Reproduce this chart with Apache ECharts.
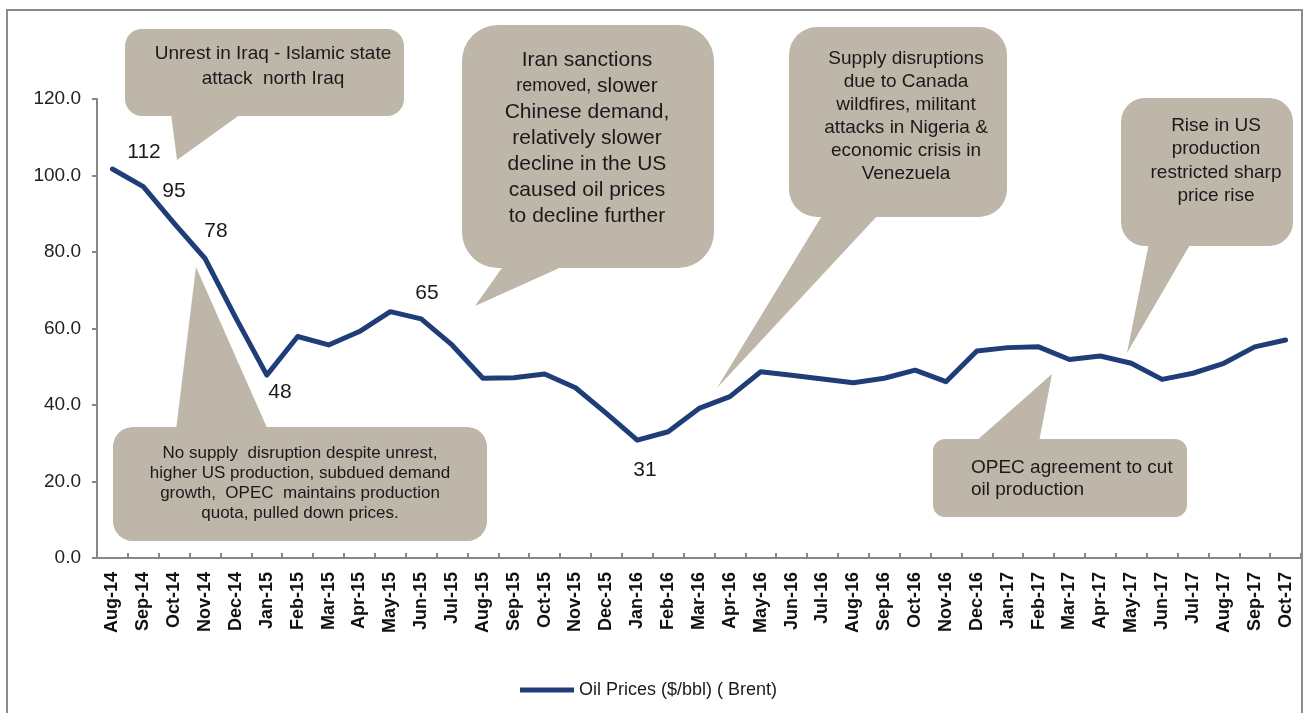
<!DOCTYPE html>
<html>
<head>
<meta charset="utf-8">
<title>Oil Prices (Brent)</title>
<script src="https://cdn.jsdelivr.net/npm/echarts@6/dist/echarts.min.js"></script>
<style>
  html, body { margin: 0; padding: 0; background: #fff; }
  #chart { width: 1304px; height: 713px; }
</style>
</head>
<body>
<div id="chart"></div>
<script>
// monthly Brent prices, $/bbl
const months = [
  'Aug-14', 'Sep-14', 'Oct-14', 'Nov-14', 'Dec-14',
  'Jan-15', 'Feb-15', 'Mar-15', 'Apr-15', 'May-15', 'Jun-15', 'Jul-15', 'Aug-15', 'Sep-15', 'Oct-15', 'Nov-15', 'Dec-15',
  'Jan-16', 'Feb-16', 'Mar-16', 'Apr-16', 'May-16', 'Jun-16', 'Jul-16', 'Aug-16', 'Sep-16', 'Oct-16', 'Nov-16', 'Dec-16',
  'Jan-17', 'Feb-17', 'Mar-17', 'Apr-17', 'May-17', 'Jun-17', 'Jul-17', 'Aug-17', 'Sep-17', 'Oct-17'
]
const brent = [
  101.7, 97.1, 87.5, 78.3, 62.7,
  47.8, 57.9, 55.7, 59.2, 64.4, 62.5, 55.7, 47.0, 47.1, 48.1, 44.5, 37.8,
  30.8, 33.0, 39.1, 42.2, 48.7, 47.8, 46.8, 45.8, 47.0, 49.1, 46.1, 54.1,
  55.0, 55.2, 51.9, 52.8, 50.9, 46.7, 48.3, 50.9, 55.2, 57.0
]
const seriesName = 'Oil Prices ($/bbl) ( Brent)'
const yMin = 0
const yMax = 120
const yStep = 20

// free-standing price notes written on the chart
const priceNotes = ['112', '95', '78', '48', '65', '31']

const FONT = "'Liberation Sans', Arial, sans-serif"
const BUBBLE = '#bdb6a9'
const INK = '#1a1a1a'

// speech bubble = rounded box + tail triangle + text
function bubble(box, tail, text) {
  return {
    type: 'group',
    children: [
      { type: 'polygon', shape: { points: tail }, style: { fill: BUBBLE } },
      { type: 'rect', shape: { x: box[0], y: box[1], width: box[2], height: box[3], r: box[4] }, style: { fill: BUBBLE } },
      { type: 'text', x: text.x, y: text.y, style: Object.assign({
          fill: INK, fontFamily: FONT, align: 'center', verticalAlign: 'middle'
        }, text.style) }
    ]
  }
}

const notePos = [[144, 152], [174, 191], [216, 231], [280, 392], [427, 293], [645, 470]]

const graphics = [
  // outer frame
  { type: 'rect', shape: { x: 7, y: 10, width: 1295, height: 720 }, style: { fill: 'none', stroke: '#8c8c8c', lineWidth: 2 }, z: 1 },
  bubble([125, 29, 279, 87, 17], [[171, 114], [241, 114], [177, 160]], {
    x: 273, y: 66,
    style: { text: 'Unrest in Iraq - Islamic state\nattack  north Iraq', fontSize: 19, lineHeight: 25 }
  }),
  bubble([462, 25, 252, 243, 36], [[504, 265], [566, 265], [475, 306]], {
    x: 587, y: 138,
    style: {
      text: '{b|Iran sanctions}\n{s|removed,}{b| slower}\n{b|Chinese demand,}\n{b|relatively slower}\n{b|decline in the US}\n{b|caused oil prices}\n{b|to decline further}',
      rich: {
        b: { fontSize: 21, lineHeight: 26, fontFamily: FONT, fill: INK },
        s: { fontSize: 18, lineHeight: 26, fontFamily: FONT, fill: INK }
      }
    }
  }),
  bubble([789, 27, 218, 190, 28], [[823, 214], [879, 214], [717, 388]], {
    x: 906, y: 116,
    style: { text: 'Supply disruptions\ndue to Canada\nwildfires, militant\nattacks in Nigeria &\neconomic crisis in\nVenezuela', fontSize: 19, lineHeight: 23 }
  }),
  bubble([1121, 98, 172, 148, 24], [[1149, 243], [1191, 243], [1127, 353]], {
    x: 1216, y: 161,
    style: { text: 'Rise in US\nproduction\nrestricted sharp\nprice rise', fontSize: 19, lineHeight: 23.5 }
  }),
  bubble([113, 427, 374, 114, 20], [[176, 430], [268, 430], [196, 267]], {
    x: 300, y: 483,
    style: { text: 'No supply  disruption despite unrest,\nhigher US production, subdued demand\ngrowth,  OPEC  maintains production\nquota, pulled down prices.', fontSize: 17, lineHeight: 20 }
  }),
  bubble([933, 439, 254, 78, 12], [[975, 442], [1039, 442], [1052, 374]], {
    x: 971, y: 479,
    style: { text: 'OPEC agreement to cut\noil production', fontSize: 19, lineHeight: 22, align: 'left' }
  })
]

priceNotes.forEach((t, i) => {
  graphics.push({
    type: 'text', x: notePos[i][0], y: notePos[i][1],
    style: { text: t, fontSize: 21, fontFamily: FONT, fill: INK, align: 'center', verticalAlign: 'middle' }
  })
})

const chart = echarts.init(document.getElementById('chart'))

chart.setOption({
  animation: false,
  backgroundColor: '#fff',
  grid: { left: 97, right: 3, top: 99, bottom: 155 },
  legend: {
    data: [seriesName],
    left: 515,
    top: 676,
    icon: 'rect',
    itemWidth: 54,
    itemHeight: 5,
    textStyle: { fontSize: 18, fontFamily: FONT, color: INK }
  },
  xAxis: {
    type: 'category',
    data: months,
    boundaryGap: true,
    axisLine: { lineStyle: { color: '#868686', width: 2 } },
    axisTick: { show: true, inside: true, length: 5, alignWithLabel: false, lineStyle: { color: '#868686', width: 2 } },
    axisLabel: {
      rotate: 90, interval: 0, margin: 14,
      fontSize: 18, fontWeight: 'bold', fontFamily: FONT, color: '#111'
    },
    splitLine: { show: false }
  },
  yAxis: {
    type: 'value',
    min: yMin,
    max: yMax,
    interval: yStep,
    axisLine: { show: true, lineStyle: { color: '#868686', width: 2 } },
    axisTick: { show: true, length: 5, lineStyle: { color: '#868686', width: 2 } },
    axisLabel: {
      margin: 16, fontSize: 19, fontFamily: FONT, color: '#222',
      formatter: v => v.toFixed(1)
    },
    splitLine: { show: false }
  },
  series: [{
    name: seriesName,
    type: 'line',
    data: brent,
    color: '#1f3e78',
    showSymbol: false,
    symbol: 'none',
    lineStyle: { width: 5, color: '#1f3e78', cap: 'round', join: 'round' },
    z: 3
  }],
  graphic: graphics
})
</script>
</body>
</html>
